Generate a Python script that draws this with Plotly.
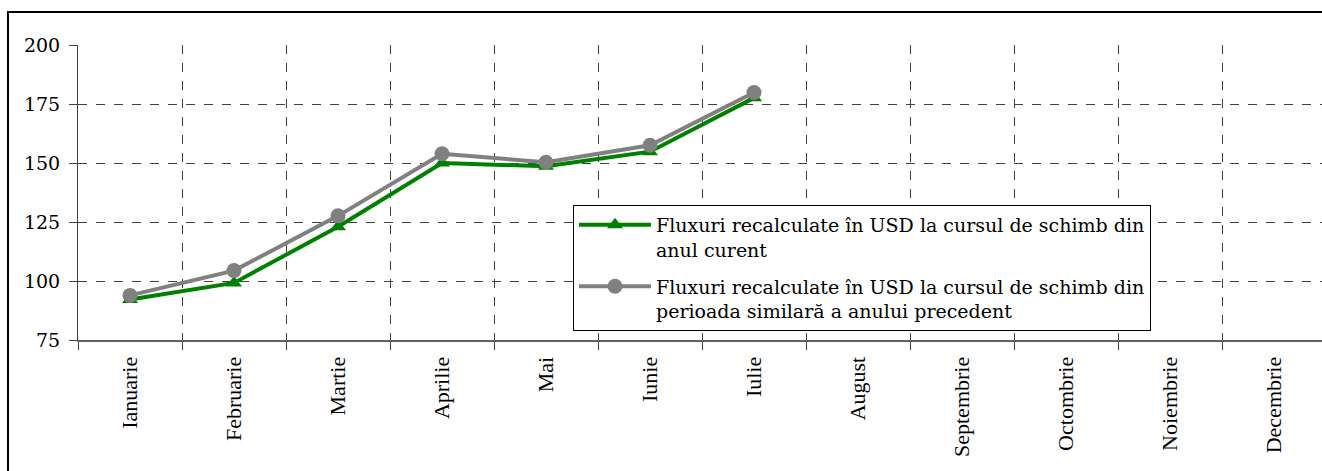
import plotly.graph_objects as go

months = ["Ianuarie", "Februarie", "Martie", "Aprilie", "Mai", "Iunie", "Iulie",
          "August", "Septembrie", "Octombrie", "Noiembrie", "Decembrie"]
curent = [92.2, 99.2, 123.0, 150.0, 148.6, 154.8, 177.6]
precedent = [93.9, 104.4, 127.6, 153.9, 150.3, 157.5, 179.9]
name_curent = "Fluxuri recalculate în USD la cursul de schimb din<br>anul curent"
name_precedent = "Fluxuri recalculate în USD la cursul de schimb din<br>perioada similară a anului precedent"
yticks = [75, 100, 125, 150, 175, 200]

FONT = "DejaVu Serif, Liberation Serif, serif"
XFONT = "Liberation Serif, Times New Roman, serif"
FS = 19

fig = go.Figure()
fig.add_trace(go.Scatter(
    x=months[:len(curent)], y=curent, name=name_curent, mode="lines+markers",
    legendgroup="a",
    line=dict(color="#008000", width=4),
    marker=dict(symbol="triangle-up", size=14, color="#008000"),
))
fig.add_trace(go.Scatter(
    x=months[:len(precedent)], y=precedent, name=name_precedent, mode="lines+markers",
    legendgroup="b",
    line=dict(color="#808080", width=4),
    marker=dict(symbol="circle", size=15, color="#808080"),
))

L, R, T, B = 78, 0, 45, 131
W, H = 1322, 471
pw = W - L - R
ph = H - T - B
cat_px = 104.0

fig.update_layout(
    width=W, height=H,
    margin=dict(l=L, r=R, t=T, b=B, pad=0),
    paper_bgcolor="white", plot_bgcolor="white",
    font=dict(family=FONT, size=FS, color="black"),
    showlegend=True,
    legend=dict(
        x=(573 - L) / pw, y=(340 - 205) / ph, xanchor="left", yanchor="top",
        bgcolor="white", bordercolor="black", borderwidth=1,
        font=dict(family=FONT, size=FS, color="black"),
        valign="top", itemwidth=72, tracegroupgap=9,
    ),
    xaxis=dict(
        type="category", categoryorder="array", categoryarray=months,
        tickvals=months, ticktext=months,
        range=[-0.5, -0.5 + pw / cat_px],
        tickson="boundaries", ticks="outside", ticklen=8, tickcolor="#404040",
        showgrid=True, gridcolor="#404040", griddash="dash", gridwidth=1,
        showline=True, linecolor="#606060", linewidth=2,
        tickangle=-90, tickfont=dict(family=XFONT, size=22, color="black"),
        ticklabelstandoff=6,
        zeroline=False, fixedrange=True,
    ),
    yaxis=dict(
        range=[75, 200], tickvals=yticks,
        ticks="outside", ticklen=8, tickcolor="#404040",
        showgrid=True, gridcolor="#404040", griddash="dash", gridwidth=1,
        showline=True, linecolor="#404040", linewidth=1,
        tickfont=dict(family=FONT, size=FS, color="black"),
        ticklabelstandoff=5,
        zeroline=False, fixedrange=True,
    ),
    shapes=[dict(
        type="rect", xref="paper", yref="paper",
        x0=(8 - L) / pw, x1=1.02, y0=-(B + 10) / ph, y1=(340 - 12) / ph,
        line=dict(color="black", width=2), fillcolor="rgba(0,0,0,0)", layer="above",
    )],
)

fig.write_html("out.html", config={"displayModeBar": False},
               post_script="document.body.style.margin='0';document.body.style.overflow='hidden';")
